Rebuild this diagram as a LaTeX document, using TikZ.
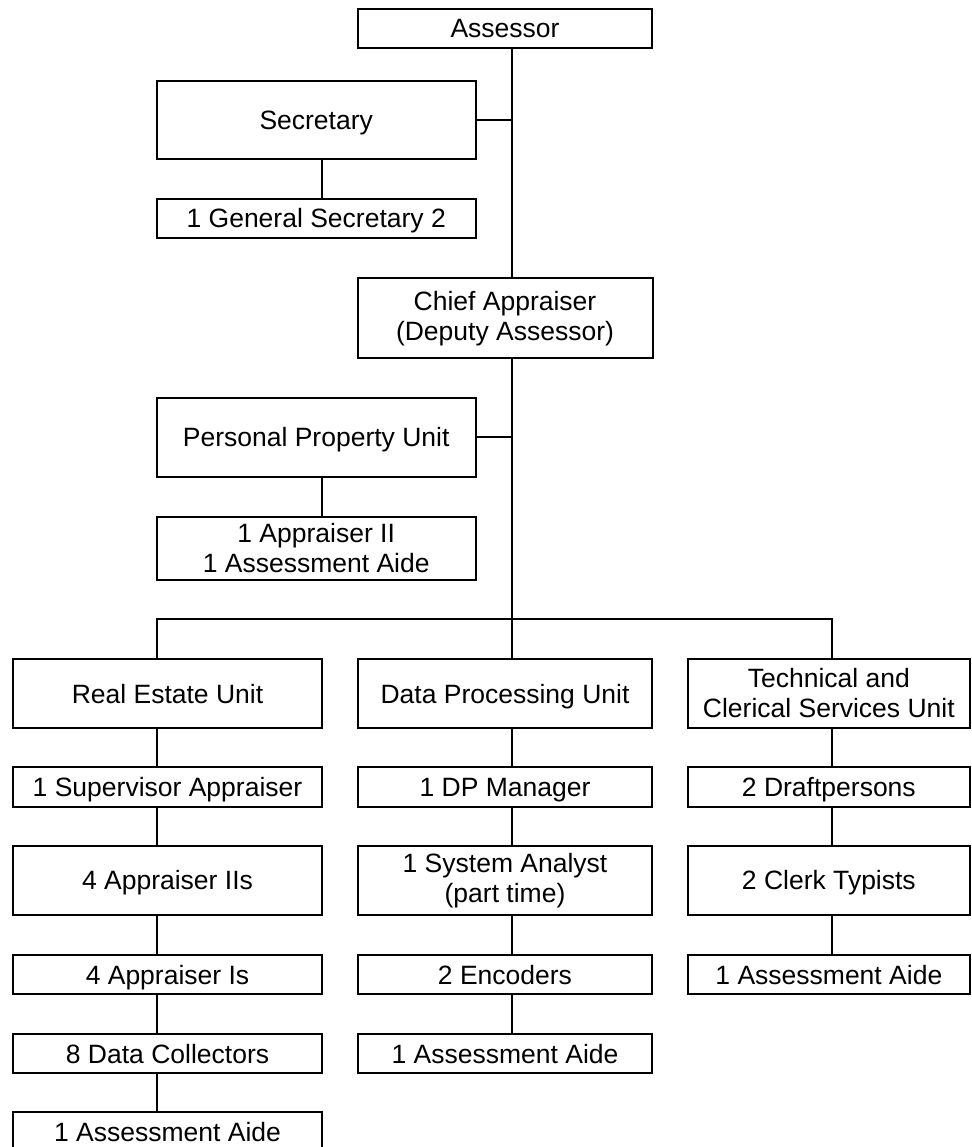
\documentclass[tikz,border=0pt]{standalone}
\usepackage{fontspec}
\setmainfont{Liberation Sans}
\begin{document}
\begin{tikzpicture}[x=1pt,y=-1pt,
  box/.style={draw=black, line width=2pt, fill=white, inner sep=0pt, align=center,
    text height=19pt, text depth=0pt,
    font=\fontsize{26.5}{30}\selectfont},
  two/.style={text height={}, text depth={}},
  link/.style={draw=black, line width=2pt}]
\useasboundingbox (0,0) rectangle (971,1147);
% top part
\node[box, minimum width=294.3pt, minimum height=38.7pt] (assessor) at (505,28.3) {Assessor};
\node[box, minimum width=319pt, minimum height=78.6pt] (secretary) at (316.2,120) {Secretary};
\node[box, minimum width=319pt, minimum height=38.7pt] (gensec) at (316.2,218.3) {1 General Secretary 2};
\node[box, two, minimum width=295pt, minimum height=80pt] (chief) at (505,318.4) {Chief Appraiser\\(Deputy Assessor)};
\node[box, minimum width=319pt, minimum height=79pt] (pp) at (316.2,437.2) {Personal Property Unit};
\node[box, two, minimum width=319pt, minimum height=63pt] (ppstaff) at (316.2,548.5) {1 Appraiser II\\1 Assessment Aide};
% units
\node[box, minimum width=309.6pt, minimum height=68.4pt] (re) at (167.5,693.5) {Real Estate Unit};
\node[box, minimum width=294.6pt, minimum height=68.4pt] (dp) at (505,693.5) {Data Processing Unit};
\node[box, two, minimum width=282.3pt, minimum height=68.4pt] (tech) at (828.85,693.5) {Technical and\\Clerical Services Unit};
% real estate column
\node[box, minimum width=309.6pt, minimum height=40pt] (re1) at (167.5,786.7) {1 Supervisor Appraiser};
\node[box, minimum width=309.6pt, minimum height=68.7pt] (re2) at (167.5,880.35) {4 Appraiser IIs};
\node[box, minimum width=309.6pt, minimum height=39pt] (re3) at (167.5,974.5) {4 Appraiser Is};
\node[box, minimum width=309.6pt, minimum height=39pt] (re4) at (167.5,1053.5) {8 Data Collectors};
\node[box, minimum width=309.6pt, minimum height=39pt] (re5) at (167.5,1131.5) {1 Assessment Aide};
% data processing column
\node[box, minimum width=294.6pt, minimum height=40pt] (dp1) at (505,786.7) {1 DP Manager};
\node[box, two, minimum width=294.6pt, minimum height=68.7pt] (dp2) at (505,880.35) {1 System Analyst\\(part time)};
\node[box, minimum width=294.6pt, minimum height=39pt] (dp3) at (505,974.5) {2 Encoders};
\node[box, minimum width=294.6pt, minimum height=39pt] (dp4) at (505,1053.5) {1 Assessment Aide};
% technical column
\node[box, minimum width=282.3pt, minimum height=40pt] (te1) at (828.85,786.7) {2 Draftpersons};
\node[box, minimum width=282.3pt, minimum height=68.7pt] (te2) at (828.85,880.35) {2 Clerk Typists};
\node[box, minimum width=282.3pt, minimum height=39pt] (te3) at (828.85,974.5) {1 Assessment Aide};
% guide coordinates
\coordinate (sx) at (512,0);
\coordinate (sc) at (321.7,0);
\coordinate (c1) at (157,619);
\coordinate (c2) at (512,619);
\coordinate (c3) at (831.7,619);
% connectors
\draw[link] (assessor.south -| sx) -- (chief.north -| sx);
\draw[link] (secretary.east) -- (secretary.east -| sx);
\draw[link] (secretary.south -| sc) -- (gensec.north -| sc);
\draw[link] (chief.south -| sx) -- (c2);
\draw[link] (pp.east) -- (pp.east -| sx);
\draw[link] (pp.south -| sc) -- (ppstaff.north -| sc);
\draw[link] (re.north -| c1) -- (c1) -- (c3) -- (tech.north -| c3);
\draw[link] (c2) -- (dp.north -| c2);
\draw[link] (re.south -| c1) -- (re1.north -| c1);
\draw[link] (re1.south -| c1) -- (re2.north -| c1);
\draw[link] (re2.south -| c1) -- (re3.north -| c1);
\draw[link] (re3.south -| c1) -- (re4.north -| c1);
\draw[link] (re4.south -| c1) -- (re5.north -| c1);
\draw[link] (dp.south -| c2) -- (dp1.north -| c2);
\draw[link] (dp1.south -| c2) -- (dp2.north -| c2);
\draw[link] (dp2.south -| c2) -- (dp3.north -| c2);
\draw[link] (dp3.south -| c2) -- (dp4.north -| c2);
\draw[link] (tech.south -| c3) -- (te1.north -| c3);
\draw[link] (te1.south -| c3) -- (te2.north -| c3);
\draw[link] (te2.south -| c3) -- (te3.north -| c3);
\end{tikzpicture}
\end{document}
